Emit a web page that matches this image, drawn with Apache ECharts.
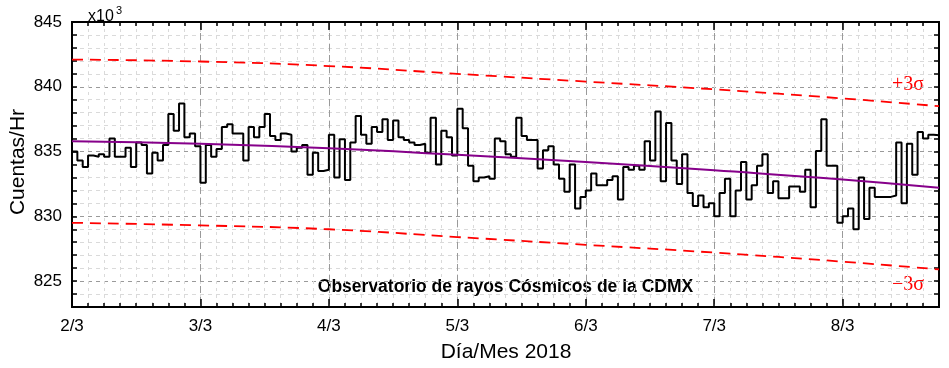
<!DOCTYPE html>
<html><head><meta charset="utf-8">
<script src="https://cdn.jsdelivr.net/npm/echarts@6/dist/echarts.min.js"></script>
<style>html,body{margin:0;padding:0;background:#fff}#c{width:949px;height:368px}</style>
</head><body><div id="c"></div>
<script>
// hourly counts (x10^3), starting 2/3 00h
const hourlyCounts = [
835.0,834.3,833.8,834.7,834.6,834.8,834.6,836.0,834.6,834.6,835.3,833.8,835.7,835.5,833.3,834.9,834.3,835.5,837.9,836.6,838.7,836.1,836.4,835.4,
832.6,835.5,834.6,835.2,836.9,837.1,836.4,836.4,834.3,836.9,836.1,836.9,837.9,836.2,835.9,836.4,836.3,835.0,835.3,835.5,833.2,834.9,833.5,833.6,
836.3,833.0,835.95,832.8,835.7,837.75,836.3,835.6,836.9,836.5,837.5,835.9,837.4,836.1,835.9,835.7,835.5,835.6,834.9,837.6,834.0,836.6,836.1,834.7,
838.3,836.8,833.9,832.7,833.0,833.1,832.9,836.0,835.8,834.8,834.6,837.6,836.2,835.9,835.9,833.7,835.1,835.4,834.0,832.9,831.9,834.0,830.6,831.5,
832.0,833.3,832.4,832.4,832.8,833.1,831.3,833.8,833.6,833.9,833.6,835.8,834.3,838.1,832.7,837.2,834.3,832.5,834.8,831.8,830.8,831.6,830.7,831.0,
830.0,831.8,832.9,830.0,832.0,834.2,831.3,832.4,833.9,834.8,831.8,832.7,831.4,831.4,832.3,832.3,831.9,833.6,830.7,835.05,837.5,833.9,833.9,829.5,
830.0,830.6,829.0,833.0,829.8,832.2,831.5,831.5,831.5,831.6,835.7,831.0,835.6,833.2,836.5,836.0,836.3,836.25
];
const dayLabels = ['2/3','3/3','4/3','5/3','6/3','7/3','8/3'];
const bandHours = [0,24,48,72,96,120,144,162];
const trendValues = [835.8,835.6,835.25,834.75,834.2,833.55,832.85,832.2];
const upperValues = [842.1,841.95,841.6,841.0,840.4,839.8,839.1,838.5];
const lowerValues = [829.5,829.3,829.0,828.4,827.8,827.2,826.5,825.9];
const yMajorLabels = [825,830,835,840,845];

const stepData = hourlyCounts.map((v,i)=>[i,v]);
stepData.push([hourlyCounts.length, hourlyCounts[hourlyCounts.length-1]]);
const pair = arr => bandHours.map((h,i)=>[h,arr[i]]);

const MINOR='#dadada', MAJOR='#9a9a9a';
const FONT='Liberation Sans';
const baseX = (pos, interval, tickLen, split, color, labels) => ({
  type:'value', min:0, max:162, interval:interval, position:pos,
  axisLine:{show:true,onZero:false,lineStyle:{color:'#000',width:2}},
  axisTick:{show:true,inside:true,length:tickLen,lineStyle:{color:'#000',width:1.5}},
  axisLabel:{show:!!labels,fontFamily:FONT,fontSize:17,color:'#000',margin:11,
    formatter:v=>(v%24===0 && dayLabels[v/24])?dayLabels[v/24]:''},
  splitLine:{show:split,lineStyle:{color:color,type:interval===24?[7,4]:[3,4],width:1}}
});
const option = {
  animation:false,
  grid:{left:72,right:10,top:22,bottom:61},
  xAxis:[
    baseX('bottom',3,4,true,MINOR,false),
    baseX('bottom',24,8,true,MAJOR,true),
    baseX('top',3,4,false,MINOR,false),
    baseX('top',24,8,false,MAJOR,false)
  ],
  yAxis:[
    {type:'value',min:823,max:845,interval:1,position:'left',
     axisLine:{show:true,onZero:false,lineStyle:{color:'#000',width:2}},
     axisTick:{show:true,inside:true,length:5,lineStyle:{color:'#000',width:1.5}},
     axisLabel:{fontFamily:FONT,fontSize:17,color:'#000',margin:10,
       formatter:v=>yMajorLabels.indexOf(v)>=0?String(v):''},
     splitLine:{show:true,lineStyle:{color:[MINOR,MINOR,MAJOR,MINOR,MINOR],type:[4,4],width:1}}},
    {type:'value',min:823,max:845,interval:1,position:'right',
     axisLine:{show:true,onZero:false,lineStyle:{color:'#000',width:2}},
     axisTick:{show:true,inside:true,length:5,lineStyle:{color:'#000',width:1.5}},
     axisLabel:{show:false},splitLine:{show:false}}
  ],
  series:[
    {type:'line',name:'upper',data:pair(upperValues),smooth:true,showSymbol:false,
     lineStyle:{color:'#ff0000',width:1.8,type:[11,7]}},
    {type:'line',name:'lower',data:pair(lowerValues),smooth:true,showSymbol:false,
     lineStyle:{color:'#ff0000',width:1.8,type:[11,7]}},
    {type:'line',name:'counts',data:stepData,step:'end',showSymbol:false,
     lineStyle:{color:'#000',width:2}},
    {type:'line',name:'trend',data:pair(trendValues),smooth:true,showSymbol:false,
     lineStyle:{color:'#86008a',width:2}}
  ],
  graphic:[
    {type:'text',left:88,top:9,style:{text:'x10',fontFamily:FONT,fontSize:16,fill:'#000'}},
    {type:'text',left:116,top:5,style:{text:'3',fontFamily:FONT,fontSize:11,fill:'#000'}},
    {type:'text',x:18,y:162,rotation:Math.PI/2,style:{text:'Cuentas/Hr',fontFamily:FONT,fontSize:21,fill:'#000',align:'center',verticalAlign:'middle'}},
    {type:'text',x:506,y:352,style:{text:'Día/Mes 2018',fontFamily:FONT,fontSize:21,fill:'#000',align:'center',verticalAlign:'middle'}},
    {type:'text',x:505.5,y:287,style:{text:'Observatorio de rayos Cósmicos de la CDMX',fontFamily:FONT,fontWeight:'bold',fontSize:17.5,fill:'#000',align:'center',verticalAlign:'middle'}},
    {type:'text',x:908,y:85,style:{text:'+3σ',fontFamily:'Liberation Serif',fontSize:20,fill:'#ff0000',align:'center',verticalAlign:'middle'}},
    {type:'text',x:908,y:285,style:{text:'\u22123σ',fontFamily:'Liberation Serif',fontSize:20,fill:'#ff0000',align:'center',verticalAlign:'middle'}}
  ]
};
echarts.init(document.getElementById('c'),null,{renderer:'canvas'}).setOption(option);
</script></body></html>
